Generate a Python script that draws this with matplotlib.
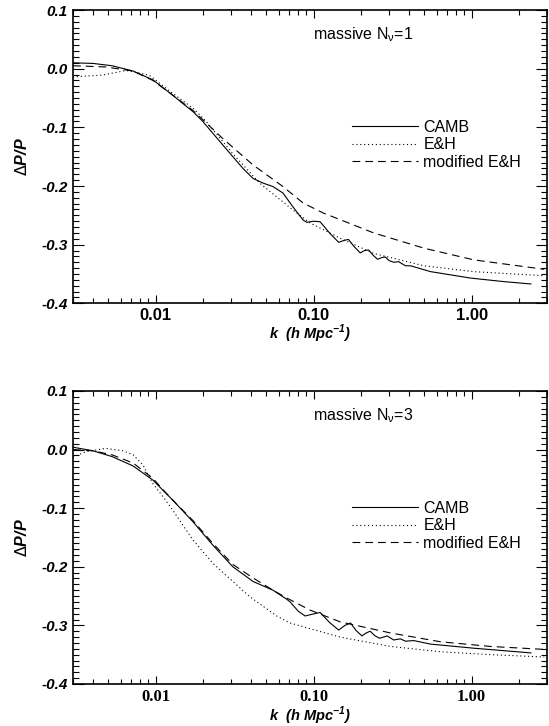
import numpy as np
import matplotlib
matplotlib.use("Agg")
import matplotlib.pyplot as plt
from matplotlib.ticker import FixedLocator, MultipleLocator, LogLocator, NullFormatter

plt.rcParams['axes.unicode_minus'] = False
plt.rcParams['font.family'] = ['Liberation Sans', 'DejaVu Sans']

# ---- data ----
# top panel: massive N_nu = 1
k_camb1 = [0.003, 0.0040, 0.0053, 0.0072, 0.0096, 0.0128, 0.0148, 0.0172, 0.0199, 0.023,
           0.0266, 0.0308, 0.0357, 0.0413, 0.0478, 0.0553, 0.064, 0.071, 0.0786, 0.0858,
           0.0906, 0.100, 0.110, 0.126, 0.144, 0.155, 0.166, 0.180, 0.197, 0.210,
           0.223, 0.238, 0.254, 0.270, 0.284, 0.300, 0.321, 0.345, 0.381, 0.41,
           0.55, 0.986, 1.6, 2.37]
p_camb1 = [0.010, 0.009, 0.005, -0.004, -0.019, -0.045, -0.059, -0.073, -0.090, -0.110,
           -0.130, -0.150, -0.170, -0.187, -0.195, -0.201, -0.212, -0.229, -0.245, -0.258,
           -0.262, -0.260, -0.261, -0.280, -0.296, -0.293, -0.291, -0.303, -0.314, -0.310,
           -0.309, -0.318, -0.325, -0.322, -0.321, -0.327, -0.330, -0.329, -0.336, -0.336,
           -0.346, -0.357, -0.363, -0.367]
k_eh1 = [0.003, 0.0046, 0.0065, 0.0091, 0.0128, 0.0172, 0.0209, 0.0308, 0.0455, 0.074,
         0.095, 0.147, 0.240, 0.499, 1.035, 2.88]
p_eh1 = [-0.014, -0.011, -0.003, -0.011, -0.042, -0.067, -0.090, -0.145, -0.195, -0.241,
         -0.263, -0.289, -0.315, -0.336, -0.346, -0.353]
k_meh1 = [0.003, 0.0048, 0.0072, 0.0096, 0.0128, 0.0172, 0.0199, 0.0266, 0.0413, 0.064,
          0.0858, 0.115, 0.240, 0.499, 1.035, 2.88]
p_meh1 = [0.005, 0.003, -0.004, -0.020, -0.045, -0.071, -0.087, -0.119, -0.164, -0.201,
          -0.229, -0.246, -0.280, -0.306, -0.326, -0.342]

# bottom panel: massive N_nu = 3
k_camb3 = [0.003, 0.0040, 0.0053, 0.0072, 0.0096, 0.0128, 0.0172, 0.023, 0.0308, 0.0413,
           0.0553, 0.0672, 0.071, 0.080, 0.0883, 0.098, 0.110, 0.126, 0.144, 0.158,
           0.171, 0.186, 0.202, 0.215, 0.228, 0.245, 0.262, 0.292, 0.321, 0.354,
           0.381, 0.43, 0.55, 1.035, 2.37]
p_camb3 = [0.004, -0.002, -0.012, -0.028, -0.052, -0.086, -0.123, -0.163, -0.200, -0.225,
           -0.240, -0.255, -0.260, -0.276, -0.284, -0.281, -0.278, -0.295, -0.308, -0.300,
           -0.296, -0.309, -0.318, -0.313, -0.310, -0.318, -0.322, -0.318, -0.325, -0.323,
           -0.327, -0.326, -0.332, -0.339, -0.347]
k_eh3 = [0.003, 0.0036, 0.0048, 0.0062, 0.0072, 0.0083, 0.0096, 0.0111, 0.0128, 0.0172,
         0.023, 0.0308, 0.0394, 0.0584, 0.071, 0.147, 0.307, 0.635, 1.32, 2.88]
p_eh3 = [-0.013, -0.004, 0.002, -0.002, -0.009, -0.026, -0.058, -0.080, -0.103, -0.154,
         -0.194, -0.225, -0.251, -0.284, -0.296, -0.320, -0.336, -0.345, -0.350, -0.354]
k_meh3 = [0.003, 0.0040, 0.0053, 0.0072, 0.0096, 0.0111, 0.0128, 0.0172, 0.023, 0.0308,
          0.0413, 0.0553, 0.0672, 0.095, 0.147, 0.307, 0.635, 1.32, 2.88]
p_meh3 = [0.000, -0.002, -0.009, -0.023, -0.049, -0.068, -0.086, -0.121, -0.160, -0.196,
          -0.219, -0.240, -0.253, -0.274, -0.294, -0.313, -0.328, -0.336, -0.341]

xticks = [0.01, 0.1, 1.0]
xticklabels = ['0.01', '0.10', '1.00']
labels = ['CAMB', 'E&H', 'modified E&H']

fig = plt.figure(figsize=(5.49, 7.26), dpi=100)
ax1 = fig.add_axes([0.133, 0.5822, 0.8634, 0.404])
ax2 = fig.add_axes([0.133, 0.0579, 0.8634, 0.4036])

panels = [(ax1, k_camb1, p_camb1, k_eh1, p_eh1, k_meh1, p_meh1, '1', 'Liberation Sans'),
          (ax2, k_camb3, p_camb3, k_eh3, p_eh3, k_meh3, p_meh3, '3', 'Liberation Serif')]

for ax, kc, pc, ke, pe, km, pm, nnu, xfont in panels:
    ax.plot(kc, pc, color='black', lw=0.8, ls='-', label=labels[0])
    ax.plot(ke, pe, color='black', lw=0.8, ls=(0, (1, 2.5)), label=labels[1])
    ax.plot(km, pm, color='black', lw=0.8, ls=(0, (7, 4.5)), label=labels[2])
    ax.set_xscale('log')
    ax.set_xlim(0.003, 3.0)
    ax.xaxis.set_major_locator(FixedLocator(xticks))
    ax.set_xticklabels(xticklabels, fontweight='bold', fontsize=12, family=xfont)
    ax.xaxis.set_minor_locator(LogLocator(base=10, subs=np.arange(2, 10)))
    ax.xaxis.set_minor_formatter(NullFormatter())
    yt = [-0.4, -0.3, -0.2, -0.1, 0.0, 0.1]
    ax.set_yticks(yt)
    ax.set_yticklabels(['%.1f' % v for v in yt], fontweight='bold', style='italic', fontsize=11)
    ax.yaxis.set_minor_locator(MultipleLocator(0.01))
    ax.set_ylim(-0.4, 0.1)
    ax.tick_params(which='both', direction='in', top=True, right=True, width=0.8)
    ax.tick_params(axis='y', which='major', length=8, pad=4)
    ax.tick_params(axis='y', which='minor', length=4)
    ax.tick_params(axis='x', which='major', length=6, pad=3.5)
    ax.tick_params(axis='x', which='minor', length=3.5)
    for s in ax.spines.values():
        s.set_linewidth(1.2)
    ax.set_ylabel(r'$\Delta$P/P', fontweight='bold', style='italic', fontsize=11.5, labelpad=8)
    ax.set_xlabel(r'k  (h Mpc$^{\mathregular{-1}}$)', fontweight='bold', style='italic',
                  fontsize=10.5, labelpad=0)
    ax.text(0.506, 0.915, 'massive N$_{\\mathregular{\u03bd}}$=' + nnu,
            transform=ax.transAxes, fontsize=11.5, va='center', ha='left')
    ax.legend(loc='center left', bbox_to_anchor=(0.589, 0.54), frameon=False,
              fontsize=11.5, handlelength=4.1, handletextpad=0.35, labelspacing=0.15,
              borderpad=0, borderaxespad=0)

fig.savefig('out.png', dpi=100)
